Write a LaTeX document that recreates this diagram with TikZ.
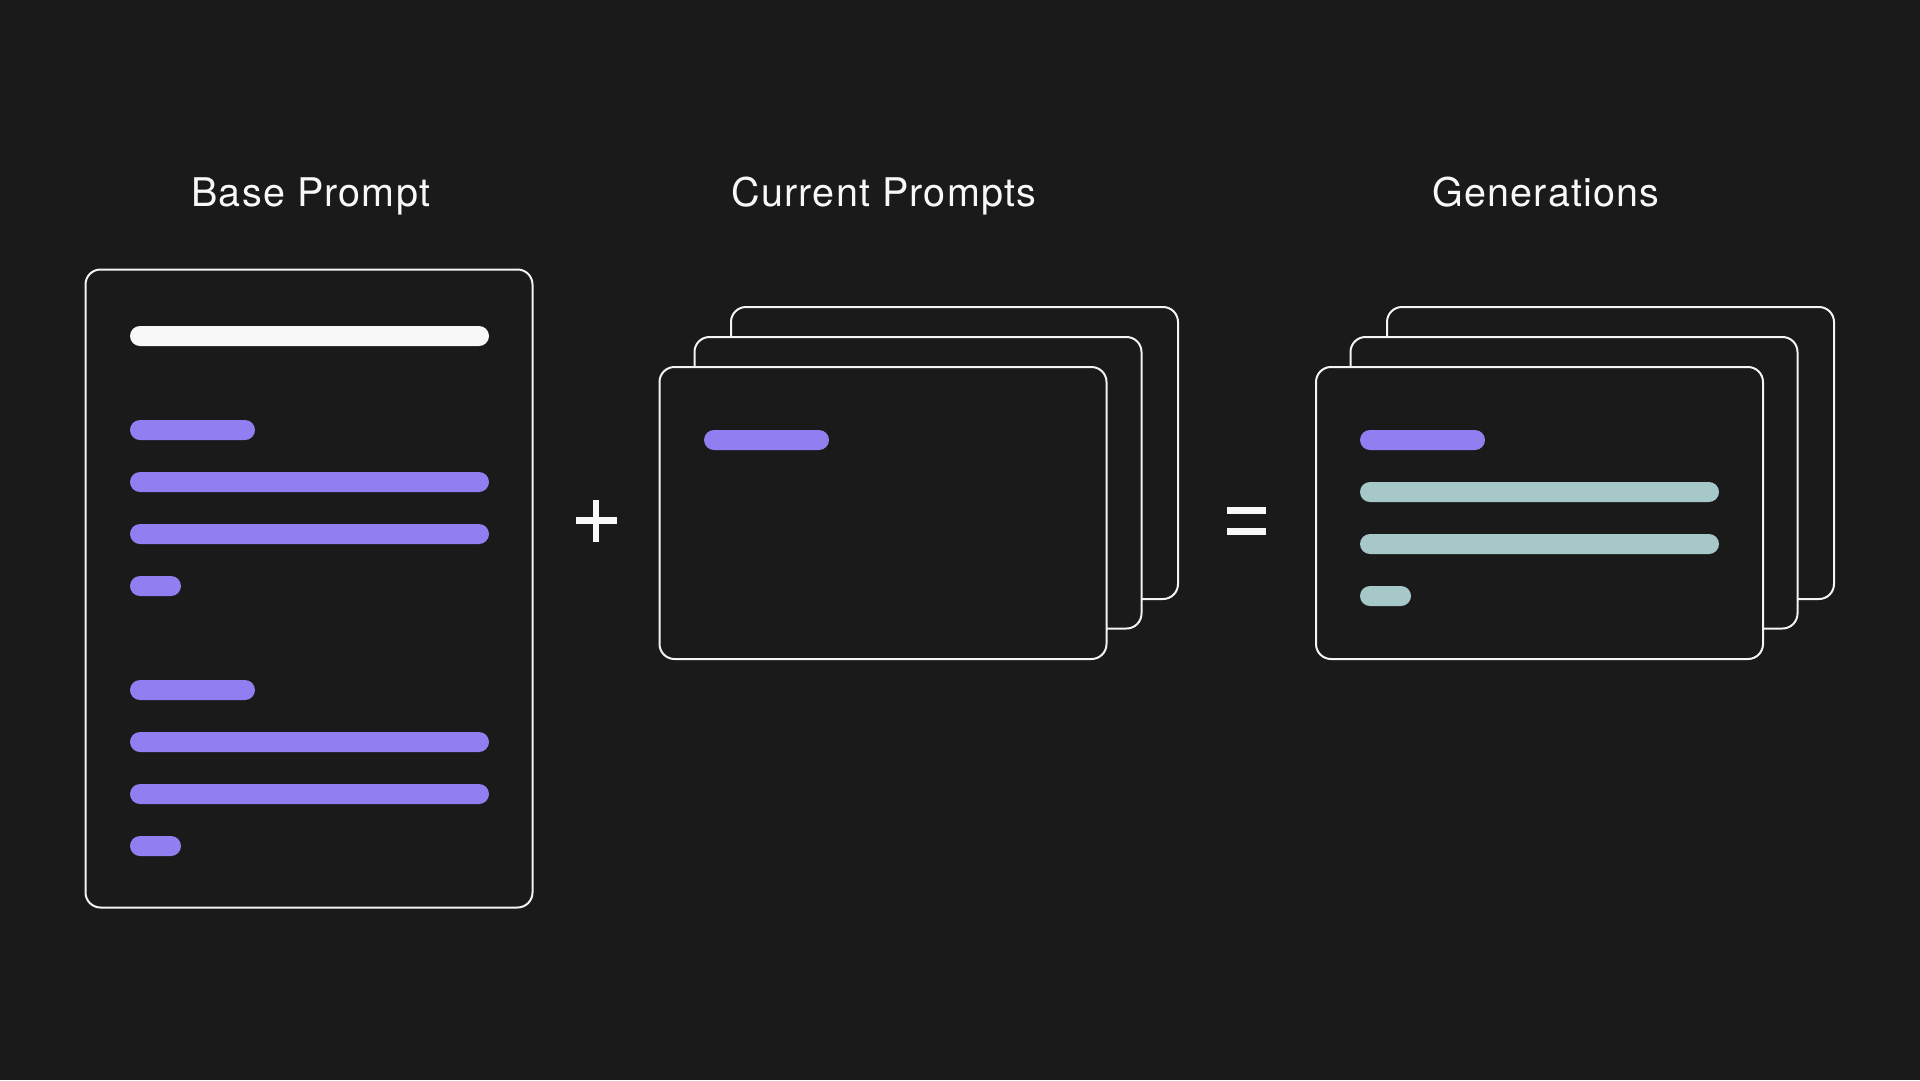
\documentclass[tikz,border=0pt]{standalone}
\usepackage{fontspec}
\setmainfont{TeX Gyre Heros}[LetterSpace=3]
\definecolor{canvas}{HTML}{1A1A1A}
\definecolor{edge}{HTML}{F4F4F4}
\definecolor{lilac}{HTML}{917FF2}
\definecolor{sage}{HTML}{A7C8C8}
\definecolor{chalk}{HTML}{F8F8F8}
\begin{document}
\begin{tikzpicture}[x=1pt,y=-1pt,
  card/.style={draw=edge, line width=2pt, fill=canvas, rounded corners=15pt},
  pill/.style={fill=#1, rounded corners=10pt},
  heading/.style={text=chalk, font=\fontsize{39.5}{47}\selectfont, anchor=base, inner sep=0pt},
  glyph/.style={fill=chalk}]
  % canvas
  \fill[canvas] (0,0) rectangle (1920,1080);
  \useasboundingbox (0,0) rectangle (1920,1080);

  % headings
  \node[heading] (hbase) at (310.8,206.7) {Base Prompt};
  \node[heading] (hcur)  at (884,206.7) {Current Prompts};
  \node[heading] (hgen)  at (1546,206.7) {Generations};

  % base prompt card
  \draw[card] (85.5,269.5) rectangle (532.5,907.5);
  \fill[pill=chalk] (130,326) rectangle (489,346);
  \foreach \y in {430,690} {
    \fill[pill=lilac] (130,\y-10) rectangle (255,\y+10);
    \fill[pill=lilac] (130,\y+42) rectangle (489,\y+62);
    \fill[pill=lilac] (130,\y+94) rectangle (489,\y+114);
    \fill[pill=lilac] (130,\y+146) rectangle (181,\y+166);
  }

  % plus sign
  \fill[glyph] (575.8,517.2) rectangle (616.5,523.8);
  \fill[glyph] (592.7,499.5) rectangle (599.3,541.5);

  % current prompts stack
  \draw[card] (731,307) rectangle (1178,599);
  \draw[card] (694.5,337) rectangle (1141.5,628.5);
  \draw[card] (659.5,367) rectangle (1106.5,659);
  \fill[pill=lilac] (704,430) rectangle (829,450);

  % equals sign
  \fill[glyph] (1226.5,507.3) rectangle (1265.5,514.3);
  \fill[glyph] (1226.5,528.3) rectangle (1265.5,535.3);

  % generations stack
  \draw[card] (1387,307) rectangle (1834,599);
  \draw[card] (1350.5,337) rectangle (1797.5,628.5);
  \draw[card] (1316,367) rectangle (1763,659);
  \fill[pill=lilac] (1360,430) rectangle (1485,450);
  \fill[pill=sage] (1360,482) rectangle (1719,502);
  \fill[pill=sage] (1360,534) rectangle (1719,554);
  \fill[pill=sage] (1360,586) rectangle (1411,606);
\end{tikzpicture}
\end{document}
